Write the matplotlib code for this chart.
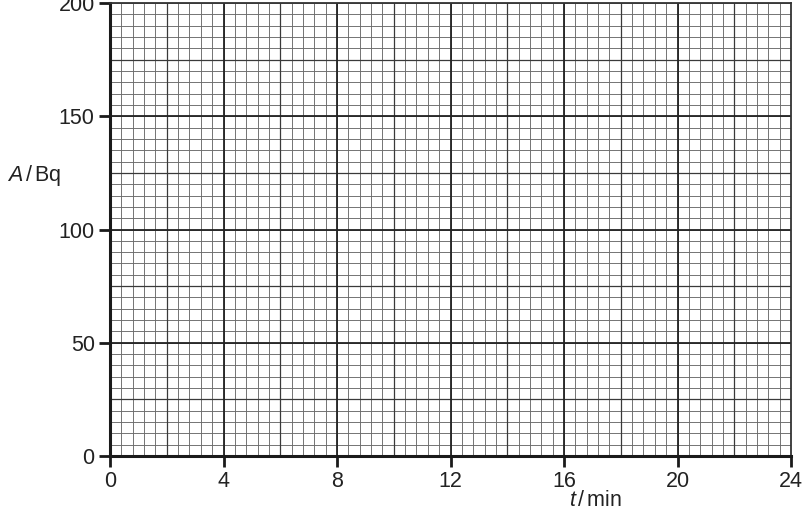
import numpy as np
import matplotlib
matplotlib.use('Agg')
from matplotlib import pyplot as plt

plt.rcParams['font.family'] = ['Liberation Sans', 'DejaVu Sans']
plt.rcParams['mathtext.fontset'] = 'custom'
plt.rcParams['mathtext.rm'] = 'Liberation Sans'
plt.rcParams['mathtext.it'] = 'Liberation Sans:italic'

# axis settings
x_ticks = [0, 4, 8, 12, 16, 20, 24]
y_ticks = [0, 50, 100, 150, 200]
x_minor = 0.4
y_minor = 5
x_label = r'$t\,$/$\,$min'
y_label = r'$A\,$/$\,$Bq'

fig = plt.figure(figsize=(8.11, 5.23), dpi=100)
ax = fig.add_axes([110/811, 67/523, 681/811, 453/523])

xmax = x_ticks[-1]
ymax = y_ticks[-1]
ax.set_xlim(0, xmax)
ax.set_ylim(0, ymax)

# fine grid
for x in np.arange(0, xmax + 1e-6, x_minor):
    ax.axvline(x, color='#6a6a6a', lw=0.65, zorder=1)
for y in np.arange(0, ymax + 1e-6, y_minor):
    ax.axhline(y, color='#6a6a6a', lw=0.65, zorder=1)
# half-major lines
for x in np.arange(2, xmax, 4):
    ax.axvline(x, color='#3a3a3a', lw=0.9, zorder=2)
for y in np.arange(25, ymax, 50):
    ax.axhline(y, color='#3a3a3a', lw=0.9, zorder=2)
# major lines
for x in x_ticks[1:-1]:
    ax.axvline(x, color='#222222', lw=1.3, zorder=3)
for y in y_ticks[1:-1]:
    ax.axhline(y, color='#222222', lw=1.3, zorder=3)

ax.set_xticks(x_ticks)
ax.set_yticks(y_ticks)
ax.tick_params(length=8, width=2, labelsize=15.5, color='#1a1a1a',
               labelcolor='#222222', pad=3)

for s in ['left', 'bottom']:
    ax.spines[s].set_linewidth(2.2)
    ax.spines[s].set_color('#1a1a1a')
for s in ['top', 'right']:
    ax.spines[s].set_linewidth(1.3)
    ax.spines[s].set_color('#333333')
for s in ax.spines.values():
    s.set_zorder(5)

fig.text(596/811, 1 - 500/523, x_label, fontsize=15.5, ha='center', va='center',
         color='#222222')
fig.text(34/811, 1 - 175/523, y_label, fontsize=15.5, ha='center', va='center',
         color='#222222')

fig.savefig('out.png', dpi=100)
